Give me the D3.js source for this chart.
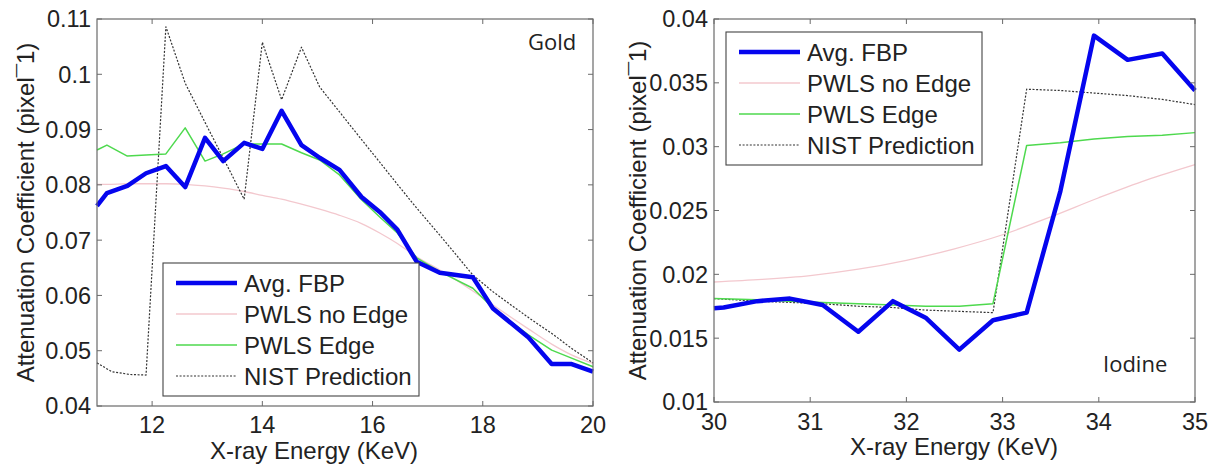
<!DOCTYPE html>
<html>
<head>
<meta charset="utf-8">
<script src="https://cdn.jsdelivr.net/npm/d3@7"></script>
<style>
  body { margin: 0; background: #fff; }
  svg { display: block; font-family: "Liberation Sans", Arial, sans-serif; }
</style>
</head>
<body>
<div id="chart"></div>
<script>
// ---- data ----
const seriesNames = ["Avg. FBP", "PWLS no Edge", "PWLS Edge", "NIST Prediction"];

// Gold panel
const goldEnergy = [11, 11.18, 11.55, 11.89, 12.25, 12.6, 12.96, 13.29, 13.67, 14.0, 14.35, 14.71, 15.04,
    15.4, 15.8, 16.13, 16.45, 16.8, 17.22, 17.82, 18.18, 18.82, 19.25, 19.6, 20];
const goldFbp = [0.0762, 0.0785, 0.0798, 0.0821, 0.0834, 0.0796, 0.0885, 0.0843, 0.0876, 0.0865, 0.0934, 0.0872, 0.0849,
    0.0827, 0.0778, 0.0751, 0.0719, 0.0661, 0.0641, 0.0633, 0.0577, 0.0525, 0.0476, 0.0476, 0.0462];
const goldPwlsNoEdge = [0.0801, 0.0801, 0.0802, 0.0802, 0.0802, 0.0801, 0.0798, 0.0794, 0.0788, 0.0781, 0.0774, 0.0765, 0.0756,
    0.0745, 0.0730, 0.0713, 0.0694, 0.0670, 0.0646, 0.0608, 0.0583, 0.0540, 0.0512, 0.0493, 0.0477];
const goldPwlsEdge = [0.0863, 0.0872, 0.0852, 0.0854, 0.0856, 0.0903, 0.0843, 0.0856, 0.0874, 0.0874, 0.0874, 0.0858, 0.0845,
    0.0818, 0.0773, 0.0742, 0.0713, 0.0668, 0.0643, 0.0613, 0.0578, 0.0529, 0.0501, 0.0487, 0.0471];
const goldNistEnergy = [11, 11.27, 11.6, 11.89, 12.25, 12.6, 12.96, 13.32, 13.67, 14.0, 14.35, 14.71, 15.04,
    15.4, 15.8, 16.13, 16.45, 16.8, 17.22, 17.82, 18.18, 18.55, 18.9, 19.27, 19.6, 20];
const goldNist = [0.0478, 0.0462, 0.0457, 0.0456, 0.1086, 0.0984, 0.0913, 0.0843, 0.0774, 0.1058, 0.0954, 0.1049, 0.0977,
    0.0932, 0.0882, 0.0841, 0.0801, 0.0758, 0.0709, 0.0637, 0.0607, 0.0580, 0.0555, 0.0530, 0.0505, 0.0478];
const goldXTicks = [12, 14, 16, 18, 20];
const goldYTicks = [0.04, 0.05, 0.06, 0.07, 0.08, 0.09, 0.1, 0.11];

// Iodine panel
const iodFbpEnergy = [30, 30.1, 30.45, 30.79, 31.13, 31.5, 31.86, 32.2, 32.55, 32.9, 33.25, 33.6, 33.95, 34.3, 34.66, 35];
const iodFbp = [0.01735, 0.0174, 0.0179, 0.0181, 0.0176, 0.0155, 0.0179, 0.0166, 0.0141, 0.0164, 0.0170, 0.0265, 0.0387, 0.0368, 0.0373, 0.0344];
const iodNoEdgeEnergy = [30, 30.5, 31, 31.5, 32, 32.5, 33, 33.5, 34, 34.5, 35];
const iodPwlsNoEdge = [0.0194, 0.0196, 0.0199, 0.0204, 0.0211, 0.0220, 0.0231, 0.0245, 0.0260, 0.0274, 0.0286];
const iodEnergy = [30, 30.45, 30.79, 31.13, 31.5, 31.86, 32.2, 32.55, 32.9, 33.25, 33.6, 33.95, 34.3, 34.66, 35];
const iodPwlsEdge = [0.0181, 0.0180, 0.0179, 0.0178, 0.0177, 0.0176, 0.0175, 0.0175, 0.0177, 0.0301, 0.0303, 0.0306, 0.0308, 0.0309, 0.0311];
const iodNist = [0.0181, 0.0179, 0.0178, 0.0177, 0.0175, 0.0174, 0.0172, 0.0171, 0.0170, 0.0345, 0.0344, 0.0342, 0.0340, 0.0337, 0.0333];
const iodXTicks = [30, 31, 32, 33, 34, 35];
const iodYTicks = [0.01, 0.015, 0.02, 0.025, 0.03, 0.035, 0.04];

// ---- styles ----
const styles = [
    { color: "#0505ee", width: 4.5, dash: null },
    { color: "#f3c8ce", width: 1.3, dash: null },
    { color: "#4ed94e", width: 1.5, dash: null },
    { color: "#333", width: 1.2, dash: "2,1.6" }
];
const textColor = "#222";
const boxColor = "#6a6a6a";

const svg = d3.select("#chart")
    .append("svg")
    .attr("width", 1220)
    .attr("height", 466);

function drawPanel(p) {
    const x = d3.scaleLinear().domain(p.xDomain).range([p.left, p.right]);
    const y = d3.scaleLinear().domain(p.yDomain).range([p.bottom, p.top]);
    const g = svg.append("g");

    // curves
    const line = d3.line().x(d => x(d[0])).y(d => y(d[1]));
    const drawOrder = [1, 3, 2, 0];
    drawOrder.forEach(i => {
        const s = p.series[i];
        const pts = s.x.map((e, k) => [e, s.y[k]]);
        g.append("path")
            .attr("d", (i === 1 ? line.curve(d3.curveMonotoneX) : line.curve(d3.curveLinear))(pts))
            .attr("fill", "none")
            .attr("stroke", styles[i].color)
            .attr("stroke-width", styles[i].width)
            .attr("stroke-dasharray", styles[i].dash)
            .attr("stroke-linejoin", "round");
    });

    // box
    g.append("rect")
        .attr("x", p.left).attr("y", p.top)
        .attr("width", p.right - p.left).attr("height", p.bottom - p.top)
        .attr("fill", "none").attr("stroke", boxColor).attr("stroke-width", 1.2);

    // ticks, inside on all four sides
    const tk = 5;
    p.xTicks.forEach(t => {
        g.append("line").attr("x1", x(t)).attr("x2", x(t)).attr("y1", p.bottom).attr("y2", p.bottom - tk)
            .attr("stroke", boxColor);
        g.append("line").attr("x1", x(t)).attr("x2", x(t)).attr("y1", p.top).attr("y2", p.top + tk)
            .attr("stroke", boxColor);
        g.append("text").attr("x", x(t)).attr("y", p.bottom + p.xTickDy)
            .attr("text-anchor", "middle").attr("font-size", 23.5).attr("fill", textColor)
            .text(t);
    });
    p.yTicks.forEach(t => {
        g.append("line").attr("x1", p.left).attr("x2", p.left + tk).attr("y1", y(t)).attr("y2", y(t))
            .attr("stroke", boxColor);
        g.append("line").attr("x1", p.right).attr("x2", p.right - tk).attr("y1", y(t)).attr("y2", y(t))
            .attr("stroke", boxColor);
        g.append("text").attr("x", p.left - 6).attr("y", y(t)).attr("dy", "0.36em")
            .attr("text-anchor", "end").attr("font-size", 23.5).attr("fill", textColor)
            .text(d3.format("~g")(t));
    });

    // axis titles
    g.append("text").attr("x", p.xLabelX).attr("y", p.xLabelY)
        .attr("text-anchor", "middle").attr("font-size", 24).attr("fill", textColor)
        .text("X-ray Energy (KeV)");
    g.append("text")
        .attr("transform", `translate(${p.yLabelX},${(p.top + p.bottom) / 2}) rotate(-90)`)
        .attr("dy", "0.36em")
        .attr("text-anchor", "middle").attr("font-size", 24).attr("fill", textColor)
        .text("Attenuation Coefficient (pixel\u00af1)");

    // element tag
    g.append("text").attr("x", p.tagX).attr("y", p.tagY)
        .attr("font-family", "'Open Sans', sans-serif").attr("font-size", 22).attr("fill", textColor)
        .text(p.tag);

    // legend
    const lg = g.append("g").attr("transform", `translate(${p.legendX},${p.legendY})`);
    lg.append("rect").attr("width", 256).attr("height", 133)
        .attr("fill", "#fff").attr("stroke", "#444").attr("stroke-width", 1.1);
    seriesNames.forEach((name, i) => {
        const ry = 20 + i * 31;
        lg.append("line").attr("x1", 13).attr("x2", 74).attr("y1", ry).attr("y2", ry)
            .attr("stroke", styles[i].color)
            .attr("stroke-width", styles[i].width)
            .attr("stroke-dasharray", styles[i].dash);
        lg.append("text").attr("x", 81).attr("y", ry).attr("dy", "0.36em")
            .attr("font-size", 24).attr("fill", textColor)
            .text(name);
    });
}

drawPanel({
    left: 97, right: 593, top: 19, bottom: 406,
    xDomain: [11, 20], yDomain: [0.04, 0.11],
    xTicks: goldXTicks, yTicks: goldYTicks,
    series: [
        { x: goldEnergy, y: goldFbp },
        { x: goldEnergy, y: goldPwlsNoEdge },
        { x: goldEnergy, y: goldPwlsEdge },
        { x: goldNistEnergy, y: goldNist }
    ],
    xTickDy: 27, xLabelX: 314, xLabelY: 459, yLabelX: 25,
    tag: "Gold", tagX: 528, tagY: 50,
    legendX: 163, legendY: 263
});

drawPanel({
    left: 714, right: 1195, top: 19, bottom: 402,
    xDomain: [30, 35], yDomain: [0.01, 0.04],
    xTicks: iodXTicks, yTicks: iodYTicks,
    series: [
        { x: iodFbpEnergy, y: iodFbp },
        { x: iodNoEdgeEnergy, y: iodPwlsNoEdge },
        { x: iodEnergy, y: iodPwlsEdge },
        { x: iodEnergy, y: iodNist }
    ],
    xTickDy: 28, xLabelX: 954, xLabelY: 455, yLabelX: 637,
    tag: "Iodine", tagX: 1103, tagY: 372,
    legendX: 726, legendY: 32
});
</script>
</body>
</html>
